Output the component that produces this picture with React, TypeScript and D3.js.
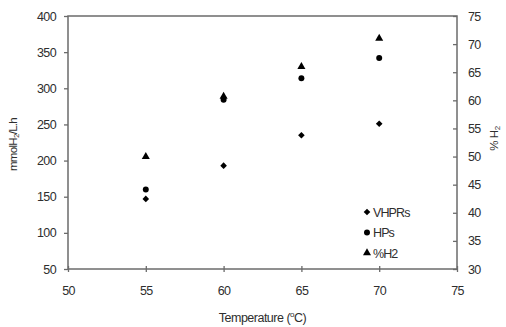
import { useEffect, useRef } from 'react';
import * as d3 from 'd3';

const temps = [55, 60, 65, 70];
const vhprs = [147, 193, 235, 251];
const hps = [160, 284, 314, 342];
const pctH2 = [50, 60.7, 66, 71];

const xTicks = [50, 55, 60, 65, 70, 75];
const yLeftTicks = [50, 100, 150, 200, 250, 300, 350, 400];
const yRightTicks = [30, 35, 40, 45, 50, 55, 60, 65, 70, 75];

const W = 506;
const H = 327;

export default function App() {
  const svgRef = useRef<SVGSVGElement>(null);

  useEffect(() => {
    if (!svgRef.current) return;
    const svg = d3.select(svgRef.current);
    svg.selectAll('*').remove();

    const margin = { top: 16, right: 49, bottom: 58, left: 68 };
    const innerW = W - margin.left - margin.right;
    const innerH = H - margin.top - margin.bottom;

    const x = d3.scaleLinear().domain([50, 75]).range([margin.left, margin.left + innerW]);
    const yL = d3.scaleLinear().domain([50, 400]).range([margin.top + innerH, margin.top]);
    const yR = d3.scaleLinear().domain([30, 75]).range([margin.top + innerH, margin.top]);

    const axisColor = '#6b6b6b';
    const textColor = '#2e2e2e';
    const font = 'Liberation Sans, Arial, sans-serif';

    // plot frame
    svg.append('rect')
      .attr('x', margin.left).attr('y', margin.top)
      .attr('width', innerW).attr('height', innerH)
      .attr('fill', 'none').attr('stroke', axisColor).attr('stroke-width', 1.5);

    const styleAxis = (g: d3.Selection<SVGGElement, unknown, null, undefined>) => {
      g.select('.domain').remove();
      g.selectAll('.tick line').attr('stroke', axisColor).attr('stroke-width', 1.3);
      g.selectAll('.tick text')
        .attr('fill', textColor)
        .attr('font-family', font)
        .attr('font-size', 12.5)
        .attr('letter-spacing', -0.6);
    };

    // x axis: ticks crossing the line
    svg.append('g')
      .attr('transform', `translate(0,${margin.top + innerH + 3})`)
      .call(d3.axisBottom(x).tickValues(xTicks).tickSize(6).tickPadding(8).tickFormat(d3.format('d')))
      .call(styleAxis)
      .selectAll('.tick line').attr('y1', -6).attr('y2', 0);

    svg.append('g')
      .attr('transform', `translate(${margin.left},0)`)
      .call(d3.axisLeft(yL).tickValues(yLeftTicks).tickSize(4).tickPadding(8).tickFormat(d3.format('d')))
      .call(styleAxis);

    svg.append('g')
      .attr('transform', `translate(${margin.left + innerW},0)`)
      .call(d3.axisRight(yR).tickValues(yRightTicks).tickSize(-4).tickPadding(11).tickFormat(d3.format('d')))
      .call(styleAxis);

    // axis titles
    svg.append('text')
      .attr('x', margin.left + innerW / 2 + 0).attr('y', H - 5)
      .attr('text-anchor', 'middle')
      .attr('fill', textColor).attr('font-family', font).attr('font-size', 12.5).attr('letter-spacing', -0.5)
      .text('Temperature (')
      .call((t) => {
        t.append('tspan').attr('font-size', 8).attr('dy', -5).text('o');
        t.append('tspan').attr('dy', 5).text('C)');
      });

    const yl = svg.append('text')
      .attr('transform', `translate(17,${margin.top + innerH / 2 + 2}) rotate(-90)`)
      .attr('text-anchor', 'middle')
      .attr('fill', textColor).attr('font-family', font).attr('font-size', 11.5).attr('letter-spacing', -0.7)
      .text('mmolH');
    yl.append('tspan').attr('font-size', 8).attr('dy', 2).text('2');
    yl.append('tspan').attr('dy', -2).text('/L.h');

    const yr = svg.append('text')
      .attr('transform', `translate(${W - 8},${margin.top + innerH / 2 - 4}) rotate(-90)`)
      .attr('text-anchor', 'middle')
      .attr('fill', textColor).attr('font-family', font).attr('font-size', 11.5).attr('letter-spacing', -0.4)
      .text('% H');
    yr.append('tspan').attr('font-size', 8).attr('dy', 2).text('2');

    // series
    const diamond = 'M0,-3.3L3.3,0L0,3.3L-3.3,0Z';
    const circle = d3.symbol().type(d3.symbolCircle).size(28)() as string;
    const triangle = d3.symbol().type(d3.symbolTriangle).size(28)() as string;

    svg.append('g').selectAll('path')
      .data(temps)
      .join('path')
      .attr('d', triangle)
      .attr('transform', (d, i) => `translate(${x(d)},${yR(pctH2[i])})`)
      .attr('fill', '#000');

    svg.append('g').selectAll('path')
      .data(temps)
      .join('path')
      .attr('d', circle)
      .attr('transform', (d, i) => `translate(${x(d)},${yL(hps[i])})`)
      .attr('fill', '#000');

    svg.append('g').selectAll('path')
      .data(temps)
      .join('path')
      .attr('d', diamond)
      .attr('transform', (d, i) => `translate(${x(d)},${yL(vhprs[i])})`)
      .attr('fill', '#000');

    // legend
    const legendItems = [
      { label: 'VHPRs', sym: diamond },
      { label: 'HPs', sym: circle },
      { label: '%H2', sym: triangle },
    ];
    const legend = svg.append('g').attr('transform', 'translate(367,212)');
    legendItems.forEach((item, i) => {
      const row = legend.append('g').attr('transform', `translate(0,${i * 20.5})`);
      row.append('path').attr('d', item.sym).attr('fill', '#000');
      row.append('text')
        .attr('x', 6).attr('y', 4.5)
        .attr('fill', textColor).attr('font-family', font).attr('font-size', 12.5).attr('letter-spacing', -0.9)
        .text(item.label);
    });
  }, []);

  return <svg ref={svgRef} width={W} height={H} style={{ display: 'block', position: 'absolute', left: 0, top: 0 }} />;
}
